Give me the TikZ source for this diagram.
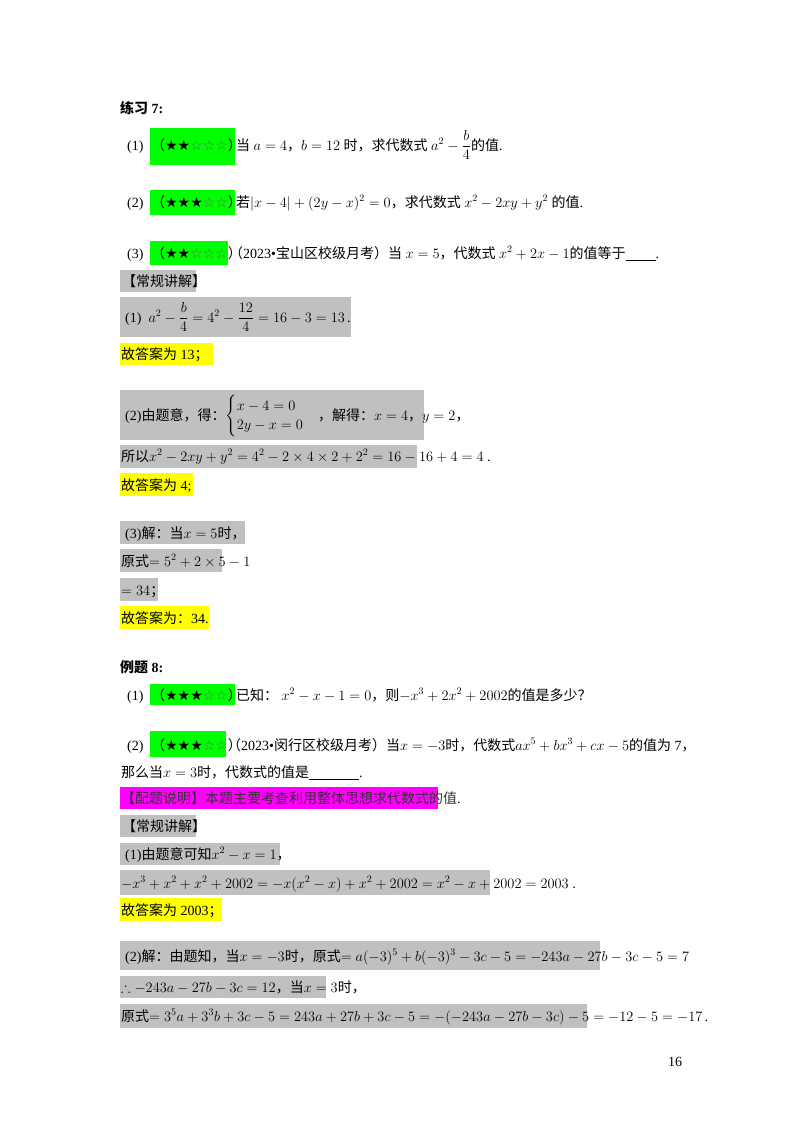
\documentclass[tikz,border=0pt]{standalone}
\usepackage{amsmath,amssymb}
\usepackage{fontspec}
\setmainfont{Liberation Serif}
\newfontfamily\cjk{Noto Sans CJK SC}
\newfontfamily\sym{DejaVu Sans}
\newcommand\z[1]{{\cjk #1}}
\newcommand\zb[1]{{\cjk\bfseries #1}}
\definecolor{hgreen}{RGB}{0,255,0}
\definecolor{hgray}{RGB}{192,192,192}
\definecolor{hyel}{RGB}{255,255,0}
\definecolor{hmag}{RGB}{255,0,255}
\tikzset{t/.style={anchor=base west,inner sep=0pt,font=\fontsize{14}{16}\selectfont},
 gb/.style={fill=hgreen},gr/.style={fill=hgray},ye/.style={fill=hyel},mg/.style={fill=hmag}}
\newcommand\st[2]{\z{（}{\sym #1}{\sym\color{black!60} #2}\z{）}}
\begin{document}
\begin{tikzpicture}[x=1pt,y=-1pt]
\useasboundingbox (0,0) rectangle (800,1132);
% boxes
\fill[gb] (150,128) rectangle (235,165);
\fill[gb] (150,190) rectangle (235,215);
\fill[gb] (150,241) rectangle (228,265);
\fill[gr] (120,270) rectangle (196,292);
\fill[gr] (120,297) rectangle (351,337);
\fill[ye] (120,343) rectangle (213,365);
\fill[gr] (120,390) rectangle (424,440);
\fill[gr] (120,445) rectangle (417,468);
\fill[ye] (120,473) rectangle (193,496);
\fill[gr] (120,521) rectangle (245,544);
\fill[gr] (120,549) rectangle (222,572);
\fill[gr] (120,578) rectangle (158,601);
\fill[ye] (120,606) rectangle (209,629);
\fill[gb] (150,684) rectangle (235,705);
\fill[gb] (150,731) rectangle (226,757);
\fill[mg] (120,787) rectangle (438,809);
\fill[gr] (120,815) rectangle (196,837);
\fill[gr] (120,843) rectangle (280,865);
\fill[gr] (120,870) rectangle (490,895);
\fill[ye] (120,898) rectangle (222,921);
\fill[gr] (120,941) rectangle (600,970);
\fill[gr] (120,976) rectangle (326,998);
\fill[gr] (120,1004) rectangle (587,1028);
% text
\node[t] (h1) at (120,113) {\zb{练习} \textbf{7:}};
\node[t] (a1) at (127,150) {(1)};
\node[t] (a1s) at (151,150) {\st{★★}{☆☆☆}};
\node[t] (a1r) at (236,150) {\z{当} $a=4$\z{，}$b=12$ \z{时，求代数式} $a^2-\dfrac{b}{4}$\z{的值}.};
\node[t] (a2) at (127,207) {(2)};
\node[t] (a2s) at (151,207) {\st{★★★}{☆☆}};
\node[t] (a2r) at (236,207) {\z{若}$|x-4|+(2y-x)^2=0$\z{，求代数式} $x^2-2xy+y^2$ \z{的值}.};
\node[t] (a3) at (127,258) {(3)};
\node[t] (a3s) at (151,258) {\st{★★}{☆☆☆}};
\node[t] (a3r) at (229,258) {\z{（}2023\textbullet\z{宝山区校级月考）当} $x=5$\z{，代数式} $x^2+2x-1$\z{的值等于}\underline{\hspace{30pt}}.};
\node[t] (c1) at (122,286) {\z{【常规讲解】}};
\node[t] (s1) at (125,322) {(1)\enspace $a^2-\dfrac{b}{4}=4^2-\dfrac{12}{4}=16-3=13$\,.};
\node[t] (y1) at (121,359) {\z{故答案为} 13\z{；}};
\node[t] (s2) at (125,420) {(2)\z{由题意，得：}$\begin{cases}x-4=0\\2y-x=0\end{cases}$\z{，解得：}$x=4$\z{，}$y=2$\z{，}};
\node[t] (s2b) at (121,461) {\z{所以}$x^2-2xy+y^2=4^2-2\times4\times2+2^2=16-16+4=4$ .};
\node[t] (y2) at (121,490) {\z{故答案为} 4;};
\node[t] (s3) at (125,538) {(3)\z{解：当}$x=5$\z{时，}};
\node[t] (s3b) at (121,566) {\z{原式}$=5^2+2\times5-1$};
\node[t] (s3c) at (121,595) {$=34$\z{；}};
\node[t] (y3) at (121,623) {\z{故答案为：}34.};
\node[t] (h2) at (120,672) {\zb{例题} \textbf{8:}};
\node[t] (b1) at (127,700) {(1)};
\node[t] (b1s) at (151,700) {\st{★★★}{☆☆}};
\node[t] (b1r) at (236,700) {\z{已知：} $x^2-x-1=0$\z{，则}$-x^3+2x^2+2002$\z{的值是多少？}};
\node[t] (b2) at (127,750) {(2)};
\node[t] (b2s) at (151,750) {\st{★★★}{☆☆}};
\node[t] (b2r) at (227,750) {\z{（}2023\textbullet\z{闵行区校级月考）当}$x=-3$\z{时，代数式}$ax^5+bx^3+cx-5$\z{的值为} 7\z{，}};
\node[t] (b2b) at (121,777) {\z{那么当}$x=3$\z{时，代数式的值是}\underline{\hspace{50pt}}.};
\node[t] (m1) at (121,803) {\z{\color{black!80}【配题说明】本题主要考查利用整体思想求代数式的值}.};
\node[t] (c2) at (122,831) {\z{【常规讲解】}};
\node[t] (t1) at (125,859) {(1)\z{由题意可知}$x^2-x=1$\z{，}};
\node[t] (t1b) at (121,888) {$-x^3+x^2+x^2+2002=-x(x^2-x)+x^2+2002=x^2-x+2002=2003$ .};
\node[t] (y4) at (121,915) {\z{故答案为} 2003\z{；}};
\node[t] (t2) at (125,961) {(2)\z{解：由题知，当}$x=-3$\z{时，原式}$=a(-3)^5+b(-3)^3-3c-5=-243a-27b-3c-5=7$};
\node[t] (t2b) at (121,992) {$\therefore-243a-27b-3c=12$\z{，当}$x=3$\z{时，}};
\node[t] (t2c) at (121,1021) {\z{原式}$=3^5a+3^3b+3c-5=243a+27b+3c-5=-(-243a-27b-3c)-5=-12-5=-17$\,.};
\node[t] (pg) at (668,1066) {16};
\end{tikzpicture}
\end{document}
